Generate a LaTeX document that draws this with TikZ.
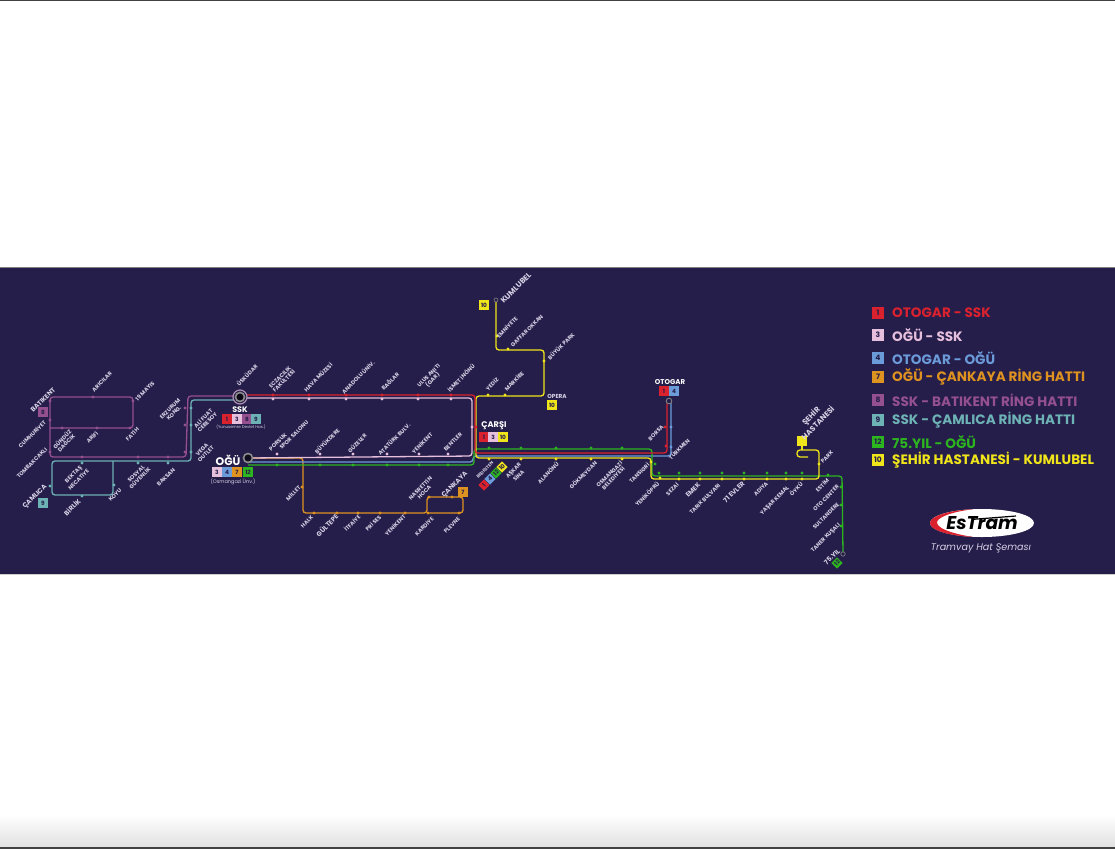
\documentclass[tikz,border=0pt]{standalone}
\usepackage{fontspec}
\setmainfont{Poppins}
\definecolor{bandc}{HTML}{251D4A}
\definecolor{textc}{HTML}{D8D3E6}
\definecolor{redc}{HTML}{D9222E}
\definecolor{pinkc}{HTML}{E6BFDD}
\definecolor{bluec}{HTML}{6C9BDA}
\definecolor{orangec}{HTML}{DE9220}
\definecolor{purplec}{HTML}{94508F}
\definecolor{tealc}{HTML}{6DB2B5}
\definecolor{greenc}{HTML}{2DB51F}
\definecolor{yellowc}{HTML}{EFE51A}
\tikzset{
  route/.style={line width=1.3pt, rounded corners=3pt},
  stoplabel/.style={rotate=45, text=textc, font=\bfseries\fontsize{5.5}{5.6}\selectfont, align=center, inner sep=0pt},
  tinylabel/.style={stoplabel, font=\bfseries\fontsize{4.4}{4.6}\selectfont},
  biglabel/.style={stoplabel, font=\bfseries\fontsize{6.6}{7}\selectfont},
  hugelabel/.style={stoplabel, font=\bfseries\fontsize{7.6}{8.6}\selectfont},
  citylabel/.style={text=white, font=\bfseries\fontsize{11}{11}\selectfont, inner sep=0pt},
  stopdot/.style={circle, inner sep=0pt, minimum size=3.4pt},
  badge/.style={rectangle, inner sep=0pt, minimum size=9.5pt, text=bandc, font=\bfseries\fontsize{5.8}{5.8}\selectfont},
  legendbox/.style={badge, minimum size=12pt, font=\bfseries\fontsize{7.5}{7.5}\selectfont},
  legendtext/.style={anchor=west, inner sep=0pt, font=\bfseries\fontsize{13.6}{14}\selectfont},
}
\begin{document}
\begin{tikzpicture}[x=1pt, y=-1pt]
  \useasboundingbox (0,0) rectangle (1115,849);
  \shade [top color=white, bottom color=black!12] (0,815) rectangle (1115,847);
  \fill [black!75] (0,0) rectangle (1115,1);
  \fill [black!75] (0,847) rectangle (1115,849);
  \fill [bandc] (0,267) rectangle (1115,574);
  \draw [black!50, line width=0.6pt] (0,267) -- (1115,267);
  \draw [black!20, line width=0.6pt] (0,574) -- (1115,574);

  \coordinate (ssk) at (240,397);
  \coordinate (ogu) at (248,458);
  \coordinate (otogar) at (669,401);
  \coordinate (kumlubel) at (496,300);
  \coordinate (yil) at (843,554);
  \node [rectangle, fill=yellowc, minimum size=10pt, inner sep=0pt] (hastanebox) at (802,441) {};

  % lines
  \draw [route, purplec] (ssk) ++(0,-1) -- (188,396) -- (186,457) -- (50,457) -- (50,397) -- (133,397) -- (133,428) -- (50,428);
  \draw [route, tealc] (ssk) ++(0,3) -- (191,400) -- (191,461) -- (52,461) -- (52,495) -- (113,495) -- (113,461);
  \draw [route, orangec] (ogu) -- (303,458) -- (303,513) -- (427,513) -- (427,497) -- (463,497) -- (463,513) -- (427,513);
  \draw [route, bluec] (ogu) ++(0,4) -- (473,462) -- (473,456) -- (671,456) -- (671,403);
  \draw [route, greenc] (ogu) ++(0,7) -- (474,465) -- (474,449) -- (652,449) -- (652,476) -- (842,476) -- (yil);
  \draw [route, yellowc] (kumlubel) -- (496,350) -- (544,350) -- (544,396) -- (476,396) -- (476,458) -- (651,458) -- (651,479) -- (819,479) -- (819,450) -- (797,450) -- (797,457) -- (808,457);
  \draw [yellowc, line width=1.3pt] (hastanebox) -- (802,450);
  \draw [route, redc] (ssk) ++(0,-2) -- (475,395) -- (475,453) -- (667,453) -- (667,403);
  \draw [route, pinkc] (ssk) ++(0,1) -- (472,398) -- (472,456) -- (ogu);

  % stops
  \foreach \x/\y [count=\i] in {273/395,309/395,346/395,382/395,418/395,451/395,476/427,665/427,666/446}
    \node [stopdot, fill=redc] (r\i) at (\x,\y) {};
  \foreach \x/\y [count=\i] in {273/399,309/399,346/399,382/399,418/399,451/399,472/427,277/454,320/454,353/454,387/454,419/454,448/454}
    \node [stopdot, fill=pinkc] (p\i) at (\x,\y) {};
  \foreach \x/\y [count=\i] in {277/465,320/465,353/465,387/465,419/465,448/465,489/448,521/448,556/448,591/448,622/448,655/464,659/473,679/473,700/473,722/473,744/473,767/473,786/473,802/473,828/475,841/487,841/505,841/526}
    \node [stopdot, fill=greenc] (g\i) at (\x,\y) {};
  \foreach \x/\y [count=\i] in {302/487,314/513,337/513,358/513,380/513,405/513,428/513,459/513,429/497,452/497}
    \node [stopdot, fill=orangec] (o\i) at (\x,\y) {};
  \foreach \x/\y [count=\i] in {496/300,497/336,508/349,544/361,488/395,505/395,489/459,521/459,556/459,591/459,622/459,651/462,660/478,679/479,700/479,722/479,744/479,767/479,786/479,802/479,819/464}
    \node [stopdot, fill=yellowc] (y\i) at (\x,\y) {};
  \foreach \x/\y [count=\i] in {50/401,50/420,93/397,133/401,62/428,97/428,130/428,50/452,82/457,138/457,168/457,185/408,185/425,185/452}
    \node [stopdot, fill=purplec] (u\i) at (\x,\y) {};
  \foreach \x/\y [count=\i] in {191/408,191/425,191/452,82/463,138/463,168/463,50/486,82/496,114/485}
    \node [stopdot, fill=tealc] (t\i) at (\x,\y) {};
  \foreach \x/\y [count=\i] in {671/427,671/447}
    \node [stopdot, fill=bluec] (b\i) at (\x,\y) {};

  % termini
  \draw [pinkc!70!bandc, line width=1.2pt, fill=bandc] (ssk) circle (7pt);
  \draw [black!45, line width=1.6pt, fill=black!70!bandc] (ssk) circle (4.5pt);
  \draw [black!45, line width=1.6pt, fill=black!60!bandc] (ogu) circle (4.5pt);
  \draw [black!50, line width=0.9pt, fill=bandc] (otogar) circle (2.8pt);
  \draw [black!50, line width=0.7pt, fill=bandc] (yil) circle (2.2pt);
  \draw [black!50, line width=0.6pt, fill=bandc] (kumlubel) circle (2pt);

  % stop names
  \foreach \x/\y/\t [count=\i] in {32/434/CUMHURİYET,32/463/TOMBAKCAKLI,102/382/ARICILAR,145/391/19 MAYIS,132/434/FATİH,92/437/ARİFİ,64/441/{GÜNDÜZ\\DAĞCIK},76/477/{BEKTAŞ\\NECATİYE},115/495/KOYU,138/476/{SOSYAL\\GÜVENLİK},166/477/BAKSAN,172/411/{ERZURUM\\KONG.},205/420/{ALİ FUAT\\CEBESOY},204/452/{VEGA\\OUTLET},247/375/ÜSKÜDAR,282/379/{ECZACILIK\\FAKÜLTESİ},318/377/HAVA MÜZESİ,358/377/ANADOLU ÜNİV.,390/381/BAĞLAR,431/378/{ULUS ANITI\\(GAR)},461/378/İSMET İNÖNÜ,278/442/PORSUK,294/435/SPOR SALONU,327/441/BÜYÜKDERE,357/443/GÜZELER,394/439/ATATÜRK BULV.,422/443/YENİKENT,453/442/BENTLER,293/493/MİLLET,307/522/HALK,352/523/İTFAİYE,373/523/PRİ SES,395/525/YENİKENT,424/526/KARDİYE,452/525/PLEVNE,422/490/{NASRETTİN\\HOCA},507/327/EMNİYETE,527/331/GAFFAR OKKAN,561/346/BÜYÜK PARK,492/384/YEDİZ,514/381/MARKİBE,516/473/{AŞKAR\\SİNA},548/473/ALANÖNÜ,583/475/GÖKMEYDAN,611/476/{OSMANGAZİ\\BELEDİYESİ},639/473/TANSIGRİ,656/433/BORSA,679/449/TÜRKMEN,647/494/YENİKÖPRÜ,672/489/SEZAİ,705/499/TARIK BULVARI,761/489/ADIYA,775/501/YAŞAR KEMAL,796/489/ÖYKÜ,827/457/PARK,822/485/ESTİM,826/498/OTO CENTER,826/516/SULTANDERE,826/538/TANER KUŞALI}
    \node [stoplabel] (n\i) at (\x,\y) {\t};
  \node [tinylabel] (bedestenlabel) at (485,470) {BEDESTEN};
  \foreach \x/\y/\t [count=\i] in {43/400/BATIKENT,35/497/ÇAMLICA,72/507/BİRLİK,455/485/ÇANKAYA,693/490/EMEK,734/492/71 EVLER,832/557/75.YIL,327/525/GÜLTEPE}
    \node [biglabel] (m\i) at (\x,\y) {\t};
  \node [hugelabel] (kumlubellabel) at (516,288) {KUMLUBEL};
  \node [hugelabel] (hastanelabel) at (814,419) {ŞEHİR\\HASTANESİ};
  \node [citylabel] (ogulabel) at (228,460) {OĞÜ};
  \node [citylabel, font=\bfseries\fontsize{8}{8}\selectfont] (ssklabel) at (240,410) {SSK};
  \node [citylabel, font=\bfseries\fontsize{8.2}{8}\selectfont] (carsilabel) at (494,426) {ÇARŞI};
  \node [citylabel, font=\bfseries\fontsize{7}{7}\selectfont] (otogarlabel) at (670,382) {OTOGAR};
  \node [citylabel, text=textc, font=\bfseries\fontsize{5.8}{6}\selectfont] (operalabel) at (557,396) {OPERA};
  \node [citylabel, text=textc, font=\fontsize{4}{4}\selectfont] (ssknote) at (241,427) {(Yunusemre Devlet Has.)};
  \node [citylabel, text=textc, font=\fontsize{5}{5}\selectfont] (ogunote) at (233,482) {(Osmangazi Ünv.)};

  % line numbers
  \foreach \x/\y/\c/\t [count=\i] in {43/412/purplec/8,43/503/tealc/9,227/419/redc/1,237/419/pinkc/3,247/419/purplec/8,256/419/tealc/9,217/472/pinkc/3,227/472/bluec/4,237/472/orangec/7,248/472/greenc/12,463/492/orangec/7,484/305/yellowc/10,552/405/yellowc/10,484/437/redc/1,493/437/pinkc/3,503/437/yellowc/10,664/391/redc/1,674/391/bluec/4}
    \node [badge, fill=\c] (k\i) at (\x,\y) {\t};
  \foreach \x/\y/\c/\t [count=\i] in {484/485/redc/1,490/479/bluec/4,496/473/greenc/12,502/467/yellowc/10,837/563/greenc/12}
    \node [badge, minimum size=8pt, fill=\c, rotate=45] (w\i) at (\x,\y) {\t};

  % legend
  \foreach \y/\c/\n/\t [count=\i] in {313/redc/1/OTOGAR - SSK,335/pinkc/3/OĞÜ - SSK,358/bluec/4/OTOGAR - OĞÜ,377/orangec/7/OĞÜ - ÇANKAYA RİNG HATTI,400/purplec/8/SSK - BATIKENT RİNG HATTI,420/tealc/9/SSK - ÇAMLICA RİNG HATTI,442/greenc/12/75.YIL - OĞÜ,460/yellowc/10/ŞEHİR HASTANESİ - KUMLUBEL} {
    \node [legendbox, fill=\c] (l\i) at (878,\y) {\n};
    \node [legendtext, text=\c] (lt\i) at (892,\y) {\t};
  }

  % logo
  \fill [white] (982,523) ellipse (52pt and 14pt);
  \fill [redc] (930,523) arc (180:100:52pt and 14pt) .. controls (950,512) and (936,518) .. (937,523) .. controls (938,530) and (960,535) .. (973,537) arc (260:180:52pt and 14pt) -- cycle;
  \node [inner sep=0pt, text=black, font=\bfseries\itshape\fontsize{18.5}{18}\selectfont] (logotext) at (982,523) {EsTram};
  \draw [black, line width=1.2pt] (logotext.north west) ++(28,3) -- (1016,516);
  \node [inner sep=0pt, text=textc, font=\itshape\fontsize{9.6}{9}\selectfont] (logonote) at (981,548) {Tramvay Hat Şeması};
\end{tikzpicture}
\end{document}
